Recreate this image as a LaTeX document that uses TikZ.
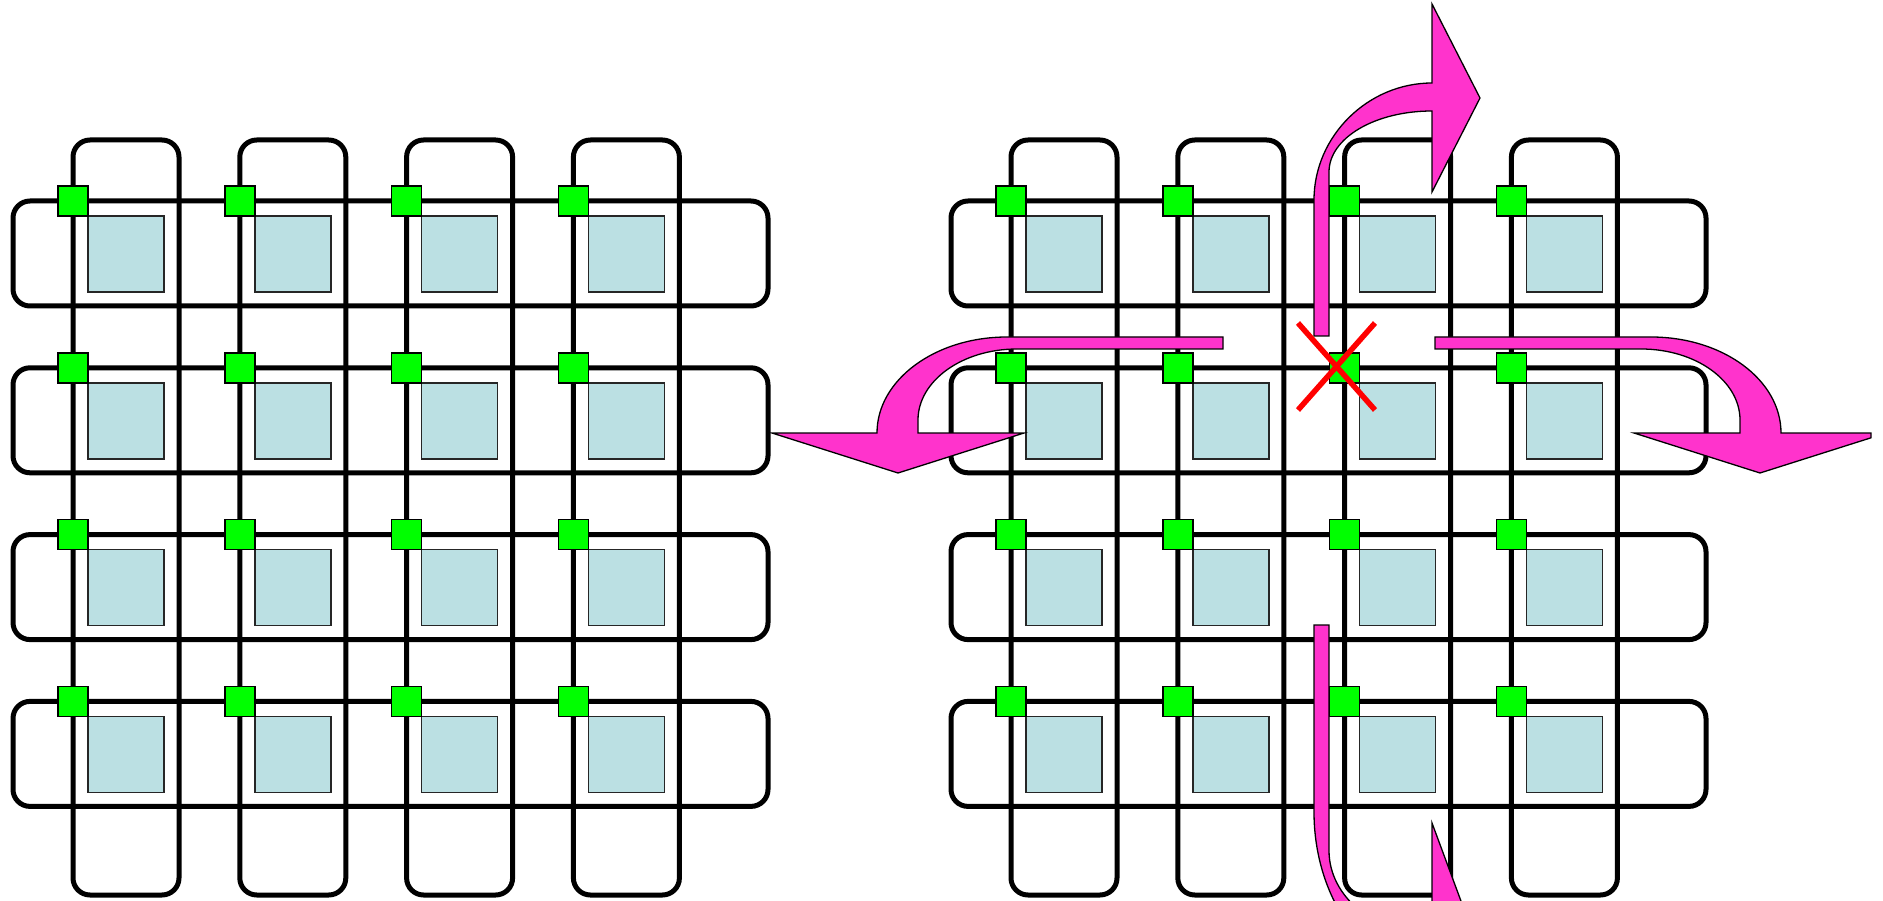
\documentclass[tikz,border=0pt]{standalone}
\definecolor{tilecol}{RGB}{187,224,227}
\definecolor{routercol}{RGB}{0,255,0}
\definecolor{flowcol}{RGB}{255,51,204}
\definecolor{faultcol}{RGB}{255,0,0}
\begin{document}
\begin{tikzpicture}[x=1pt,y=-1pt,
  bus/.style={draw=black,line width=5pt,rounded corners=17pt},
  tile/.style={draw=black!85,line width=1.5pt,fill=tilecol},
  router/.style={draw=black,line width=1.5pt,fill=routercol},
  flow/.style={draw=black,line width=1.3pt,fill=flowcol},
  fault/.style={draw=faultcol,line width=5.5pt}]
\clip (0,0) rectangle (1883,901);
\fill[white] (0,0) rectangle (1883,901);

% two 4x4 meshes: ring buses, processing tiles, routers
\foreach \gx in {73,1011}{
  \foreach \i in {0,...,3}{
    \draw[bus] ({\gx+166.8*\i},140) rectangle ({\gx+166.8*\i+106},895);
    \draw[bus] ({\gx-60},{201+166.8*\i}) rectangle ({\gx+695},{201+166.8*\i+105});
  }
  \foreach \i in {0,...,3}{
    \foreach \j in {0,...,3}{
      \draw[tile] ({\gx+166.8*\i+15},{201+166.8*\j+15}) rectangle ({\gx+166.8*\i+91},{201+166.8*\j+91});
      \draw[router] ({\gx+166.8*\i-15},{201+166.8*\j-15}) rectangle ({\gx+166.8*\i+15},{201+166.8*\j+15});
    }
  }
}

% rerouted traffic around the failed router
% upward, turning right
\draw[flow] (1314,336) -- (1314,200) .. controls (1314,136) and (1368,83) .. (1432,83)
  -- (1432,4) -- (1480,98) -- (1432,192) -- (1432,111)
  .. controls (1375,111) and (1329,138) .. (1329,172) -- (1329,336) -- cycle;
% downward, turning right
\draw[flow] (1314,625) -- (1314,812) .. controls (1314,900) and (1368,973) .. (1432,973)
  -- (1432,1081.5) -- (1480,952.25) -- (1432,823) -- (1432,934.4)
  .. controls (1375,934.4) and (1329,897.25) .. (1329,850.5) -- (1329,625) -- cycle;
% leftward, turning down
\draw[flow] (1223,337) -- (1007,337) .. controls (935,337) and (877,380) .. (877,433)
  -- (772,433) -- (898,473) -- (1024,433) -- (918,433) -- (918,420)
  .. controls (918,381) and (962,349) .. (1017,349) -- (1223,349) -- cycle;
% rightward, turning down
\draw[flow] (1435,337) -- (1651,337) .. controls (1723,337) and (1781,380) .. (1781,433)
  -- (1871,433) -- (1871,437.8) -- (1760,473) -- (1634,433) -- (1740,433) -- (1740,420)
  .. controls (1740,381) and (1696,349) .. (1641,349) -- (1435,349) -- cycle;

% failed router
\draw[fault] (1298,323) -- (1375,410);
\draw[fault] (1375,323) -- (1298,410);
\end{tikzpicture}
\end{document}
